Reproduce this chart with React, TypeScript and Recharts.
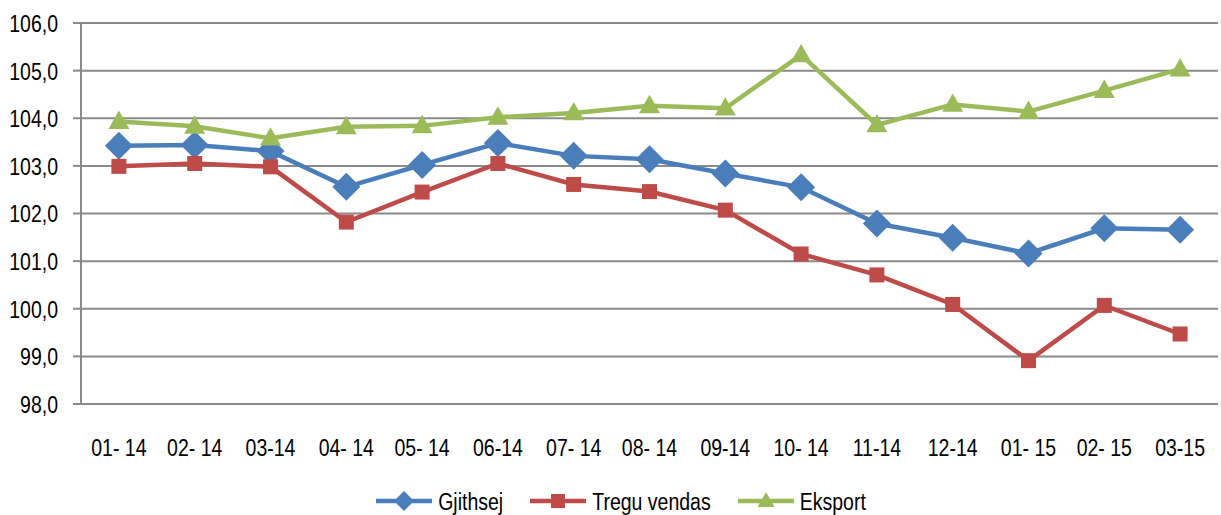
import React from "react";
import {
  LineChart,
  Line,
  XAxis,
  YAxis,
  CartesianGrid,
} from "recharts";

const months = [
  "01- 14", "02- 14", "03-14", "04- 14", "05- 14", "06-14", "07- 14", "08- 14",
  "09-14", "10- 14", "11-14", "12-14", "01- 15", "02- 15", "03-15",
];
const gjithsej = [103.42, 103.44, 103.31, 102.56, 103.02, 103.48, 103.21, 103.14, 102.84, 102.55, 101.79, 101.49, 101.16, 101.69, 101.66];
const treguVendas = [102.99, 103.05, 102.98, 101.82, 102.45, 103.05, 102.61, 102.46, 102.07, 101.15, 100.71, 100.09, 98.91, 100.07, 99.47];
const eksport = [103.93, 103.83, 103.58, 103.82, 103.84, 104.02, 104.11, 104.26, 104.21, 105.33, 103.86, 104.29, 104.14, 104.58, 105.03];
const yTicks = [98, 99, 100, 101, 102, 103, 104, 105, 106];
const boundaryTicks = months.map((_, i) => i).concat(months.length);

const data = months.map((m, i) => ({
  month: m,
  gjithsej: gjithsej[i],
  treguVendas: treguVendas[i],
  eksport: eksport[i],
}));

const BLUE = "#4a7ebb";
const RED = "#be4b48";
const GREEN = "#9bbb59";
const GRID = "#8a8a8a";
const FONT = "'Liberation Sans', Arial, sans-serif";
const FS = 19.5;
const STRETCH = 1.27; // reference text is tall and narrow

const fmt = (v: number) => v.toFixed(1).replace(".", ",");

function Diamond(props: any) {
  const { cx, cy, size = 14 } = props;
  if (cx == null || cy == null) return null;
  const r = size;
  return (
    <path d={`M${cx},${cy - r}L${cx + r},${cy}L${cx},${cy + r}L${cx - r},${cy}Z`} fill={BLUE} />
  );
}

function Square(props: any) {
  const { cx, cy, size = 7.5 } = props;
  if (cx == null || cy == null) return null;
  const r = size;
  return <rect x={cx - r} y={cy - r} width={r * 2} height={r * 2} fill={RED} />;
}

function Triangle(props: any) {
  const { cx, cy, size = 10.5 } = props;
  if (cx == null || cy == null) return null;
  const r = size;
  const h = r * 1.75;
  return (
    <path d={`M${cx},${cy - h * 0.6}L${cx + r},${cy + h * 0.4}L${cx - r},${cy + h * 0.4}Z`} fill={GREEN} />
  );
}

function YTick(props: any) {
  const { x, y, payload } = props;
  return (
    <text
      x={x}
      y={y}
      dy="0.36em"
      textAnchor="end"
      fontSize={FS}
      fontFamily={FONT}
      fill="#000"
      transform={`translate(0 ${y}) scale(1 ${STRETCH}) translate(0 ${-y})`}
    >
      {fmt(payload.value)}
    </text>
  );
}

function XTick(props: any) {
  const { x, y, payload } = props;
  return (
    <text
      x={x}
      y={y}
      dy="0.72em"
      textAnchor="middle"
      fontSize={FS}
      fontFamily={FONT}
      fill="#000"
      transform={`translate(0 ${y}) scale(1 ${STRETCH}) translate(0 ${-y})`}
    >
      {payload.value}
    </text>
  );
}

const legendItems = [
  { name: "Gjithsej", color: BLUE, Shape: Diamond, size: 10 },
  { name: "Tregu vendas", color: RED, Shape: Square, size: 7 },
  { name: "Eksport", color: GREEN, Shape: Triangle, size: 8.5 },
];

function ChartLegend() {
  return (
    <div
      style={{
        position: "absolute",
        left: 0,
        top: 485,
        width: 1221,
        display: "flex",
        justifyContent: "center",
        gap: 26,
        fontFamily: FONT,
        fontSize: FS,
        lineHeight: "32px",
        color: "#000",
        paddingLeft: 20,
        boxSizing: "border-box",
      }}
    >
      {legendItems.map((it) => (
        <div key={it.name} style={{ display: "flex", alignItems: "center" }}>
          <svg width={58} height={32} style={{ marginRight: 5 }}>
            <line x1={1} y1={16} x2={57} y2={16} stroke={it.color} strokeWidth={4.5} />
            <it.Shape cx={29} cy={16} size={it.size} />
          </svg>
          <span style={{ display: "inline-block", transform: `scaleY(${STRETCH})` }}>{it.name}</span>
        </div>
      ))}
    </div>
  );
}

export default function App() {
  return (
    <div style={{ position: "absolute", left: 0, top: 0, width: 1221, height: 515, background: "#fff", overflow: "hidden" }}>
      <LineChart
        width={1221}
        height={515}
        data={data}
        margin={{ top: 23, right: 3, left: 0, bottom: 51 }}
      >
        <CartesianGrid vertical={false} stroke={GRID} strokeWidth={2} />
        <XAxis
          xAxisId="bounds"
          type="number"
          domain={[0, months.length]}
          ticks={boundaryTicks}
          height={0}
          tick={false}
          tickSize={7}
          tickLine={{ stroke: GRID, strokeWidth: 2 }}
          axisLine={{ stroke: GRID, strokeWidth: 2 }}
          allowDataOverflow
        />
        <XAxis
          dataKey="month"
          scale="band"
          height={60}
          tickLine={false}
          axisLine={false}
          tickMargin={28}
          interval={0}
          tick={<XTick />}
        />
        <YAxis
          width={81}
          domain={[98, 106]}
          ticks={yTicks}
          tickSize={8}
          tickMargin={15}
          tickLine={{ stroke: GRID, strokeWidth: 2 }}
          axisLine={{ stroke: GRID, strokeWidth: 2 }}
          tick={<YTick />}
        />
        <Line
          dataKey="gjithsej"
          stroke={BLUE}
          strokeWidth={4.5}
          dot={<Diamond />}
          activeDot={false}
          isAnimationActive={false}
        />
        <Line
          dataKey="treguVendas"
          stroke={RED}
          strokeWidth={4.5}
          dot={<Square />}
          activeDot={false}
          isAnimationActive={false}
        />
        <Line
          dataKey="eksport"
          stroke={GREEN}
          strokeWidth={4.5}
          dot={<Triangle />}
          activeDot={false}
          isAnimationActive={false}
        />
      </LineChart>
      <ChartLegend />
    </div>
  );
}
